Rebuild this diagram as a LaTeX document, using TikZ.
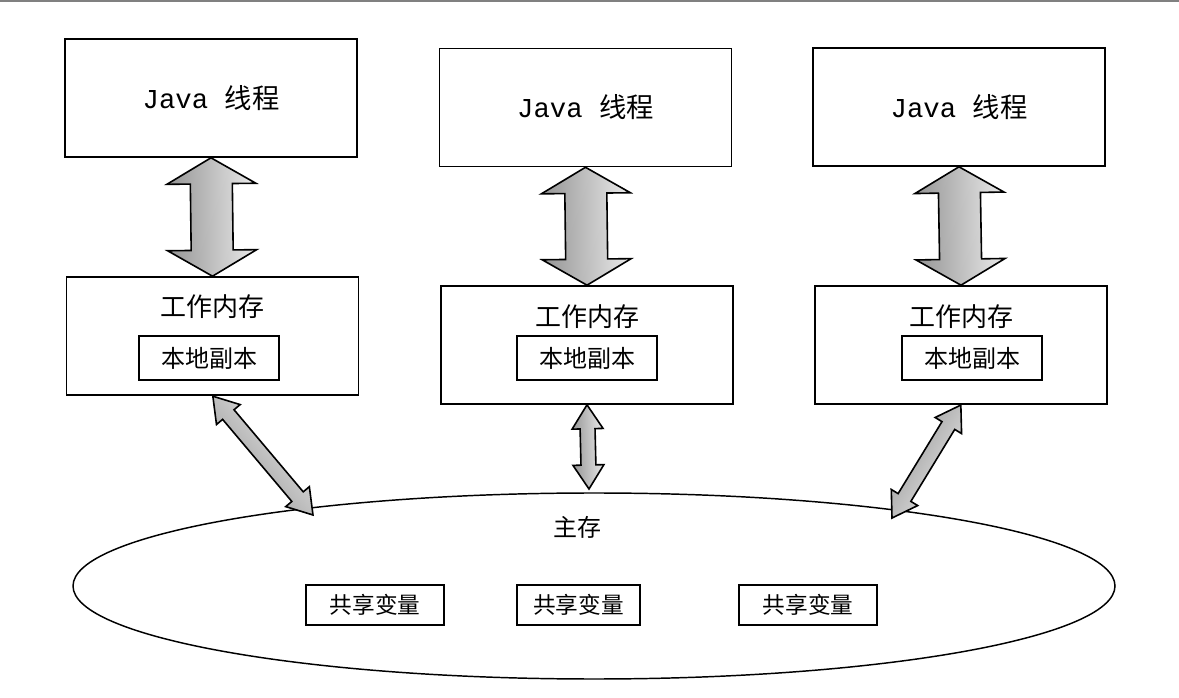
\documentclass[tikz,border=0pt]{standalone}
\usepackage{fontspec}
\setmonofont{Liberation Mono}
\newfontfamily\cjk{Noto Sans CJK SC}
\usetikzlibrary{shapes.geometric}
\tikzset{
  box/.style={draw,line width=1.2pt,inner sep=0pt},
  threadbox/.style={box,minimum width=219pt,minimum height=88.5pt,font=\fontsize{20.5}{24}\selectfont},
  workbox/.style={box,minimum width=219pt,minimum height=88.5pt},
  worklabel/.style={font=\cjk\fontsize{19.5}{22}\selectfont,inner sep=0pt},
  copybox/.style={box,minimum width=105pt,minimum height=33pt,font=\cjk\fontsize{18}{20}\selectfont},
  varbox/.style={box,minimum height=30pt,font=\cjk\fontsize{17}{20}\selectfont},
  linkarrow/.style={line width=1.2pt,line join=miter,top color=black!42,bottom color=black!8}
}
% #1 from, #2 to, #3 shaft half width, #4 head half width, #5 head length (pt)
\newcommand\memlink[5]{%
  \path (#1) coordinate (lnkA) (#2) coordinate (lnkB);
  \pgfpointdiff{\pgfpointanchor{lnkA}{center}}{\pgfpointanchor{lnkB}{center}}%
  \pgfgetlastxy{\lnkx}{\lnky}%
  \pgfmathsetmacro\lnkang{atan2(\lnky,\lnkx)}%
  \pgfmathsetmacro\lnklen{veclen(\lnkx,\lnky)}%
  \pgfmathsetmacro\lnkbase{\lnklen-#5}%
  \begin{scope}[shift={(lnkA)},rotate=\lnkang]
    \draw[linkarrow,shading angle=\lnkang] (0pt,0pt) -- (#5pt,#4pt) -- (#5pt,#3pt) -- (\lnkbase pt,#3pt)
      -- (\lnkbase pt,#4pt) -- (\lnklen pt,0pt) -- (\lnkbase pt,-#4pt) -- (\lnkbase pt,-#3pt)
      -- (#5pt,-#3pt) -- (#5pt,-#4pt) -- cycle;
  \end{scope}}
\begin{document}
\begin{tikzpicture}[x=0.75pt,y=-0.75pt]
\useasboundingbox (0,0) rectangle (1179,698);
\draw[gray,line width=1.5pt] (0,1) -- (1179,1);
\node[threadbox] (thread1) at (211,98) {\ttfamily Java \cjk 线程};
\node[threadbox] (thread2) at (585.5,107.5) {\ttfamily Java \cjk 线程};
\node[threadbox] (thread3) at (959,107) {\ttfamily Java \cjk 线程};
\node[workbox] (work1) at (212.5,336) {};
\node[workbox] (work2) at (587,345) {};
\node[workbox] (work3) at (961,345) {};
\node[worklabel] (wl1) at (212.5,307) {工作内存};
\node[worklabel] (wl2) at (587,317) {工作内存};
\node[worklabel] (wl3) at (961,317) {工作内存};
\node[copybox] (copy1) at (209,358) {本地副本};
\node[copybox] (copy2) at (587,358) {本地副本};
\node[copybox] (copy3) at (972,358) {本地副本};
\node[ellipse,draw,line width=1.1pt,minimum width=781.5pt,minimum height=139.5pt,inner sep=0pt] (mem) at (594,586) {};
\node[worklabel,font=\cjk\fontsize{18}{20}\selectfont] (memlabel) at (577,527) {主存};
\node[varbox,minimum width=103.5pt] (var1) at (375,605) {共享变量};
\node[varbox,minimum width=92.25pt] (var2) at (578.5,605) {共享变量};
\node[varbox,minimum width=103.5pt] (var3) at (808,605) {共享变量};
\coordinate (m1) at (313,515);
\coordinate (m2) at (589,489);
\coordinate (m3) at (892,518);
\memlink{work1.north}{thread1.south}{15.75}{33.4}{19.5}
\memlink{work2.north}{thread2.south}{15.75}{33.4}{19.5}
\memlink{work3.north}{thread3.south}{15.75}{33.4}{19.5}
\memlink{m1}{work1.south}{5.6}{11.6}{18}
\memlink{m2}{work2.south}{5.6}{11.6}{18}
\memlink{m3}{work3.south}{5.6}{11.6}{18}
\end{tikzpicture}
\end{document}
